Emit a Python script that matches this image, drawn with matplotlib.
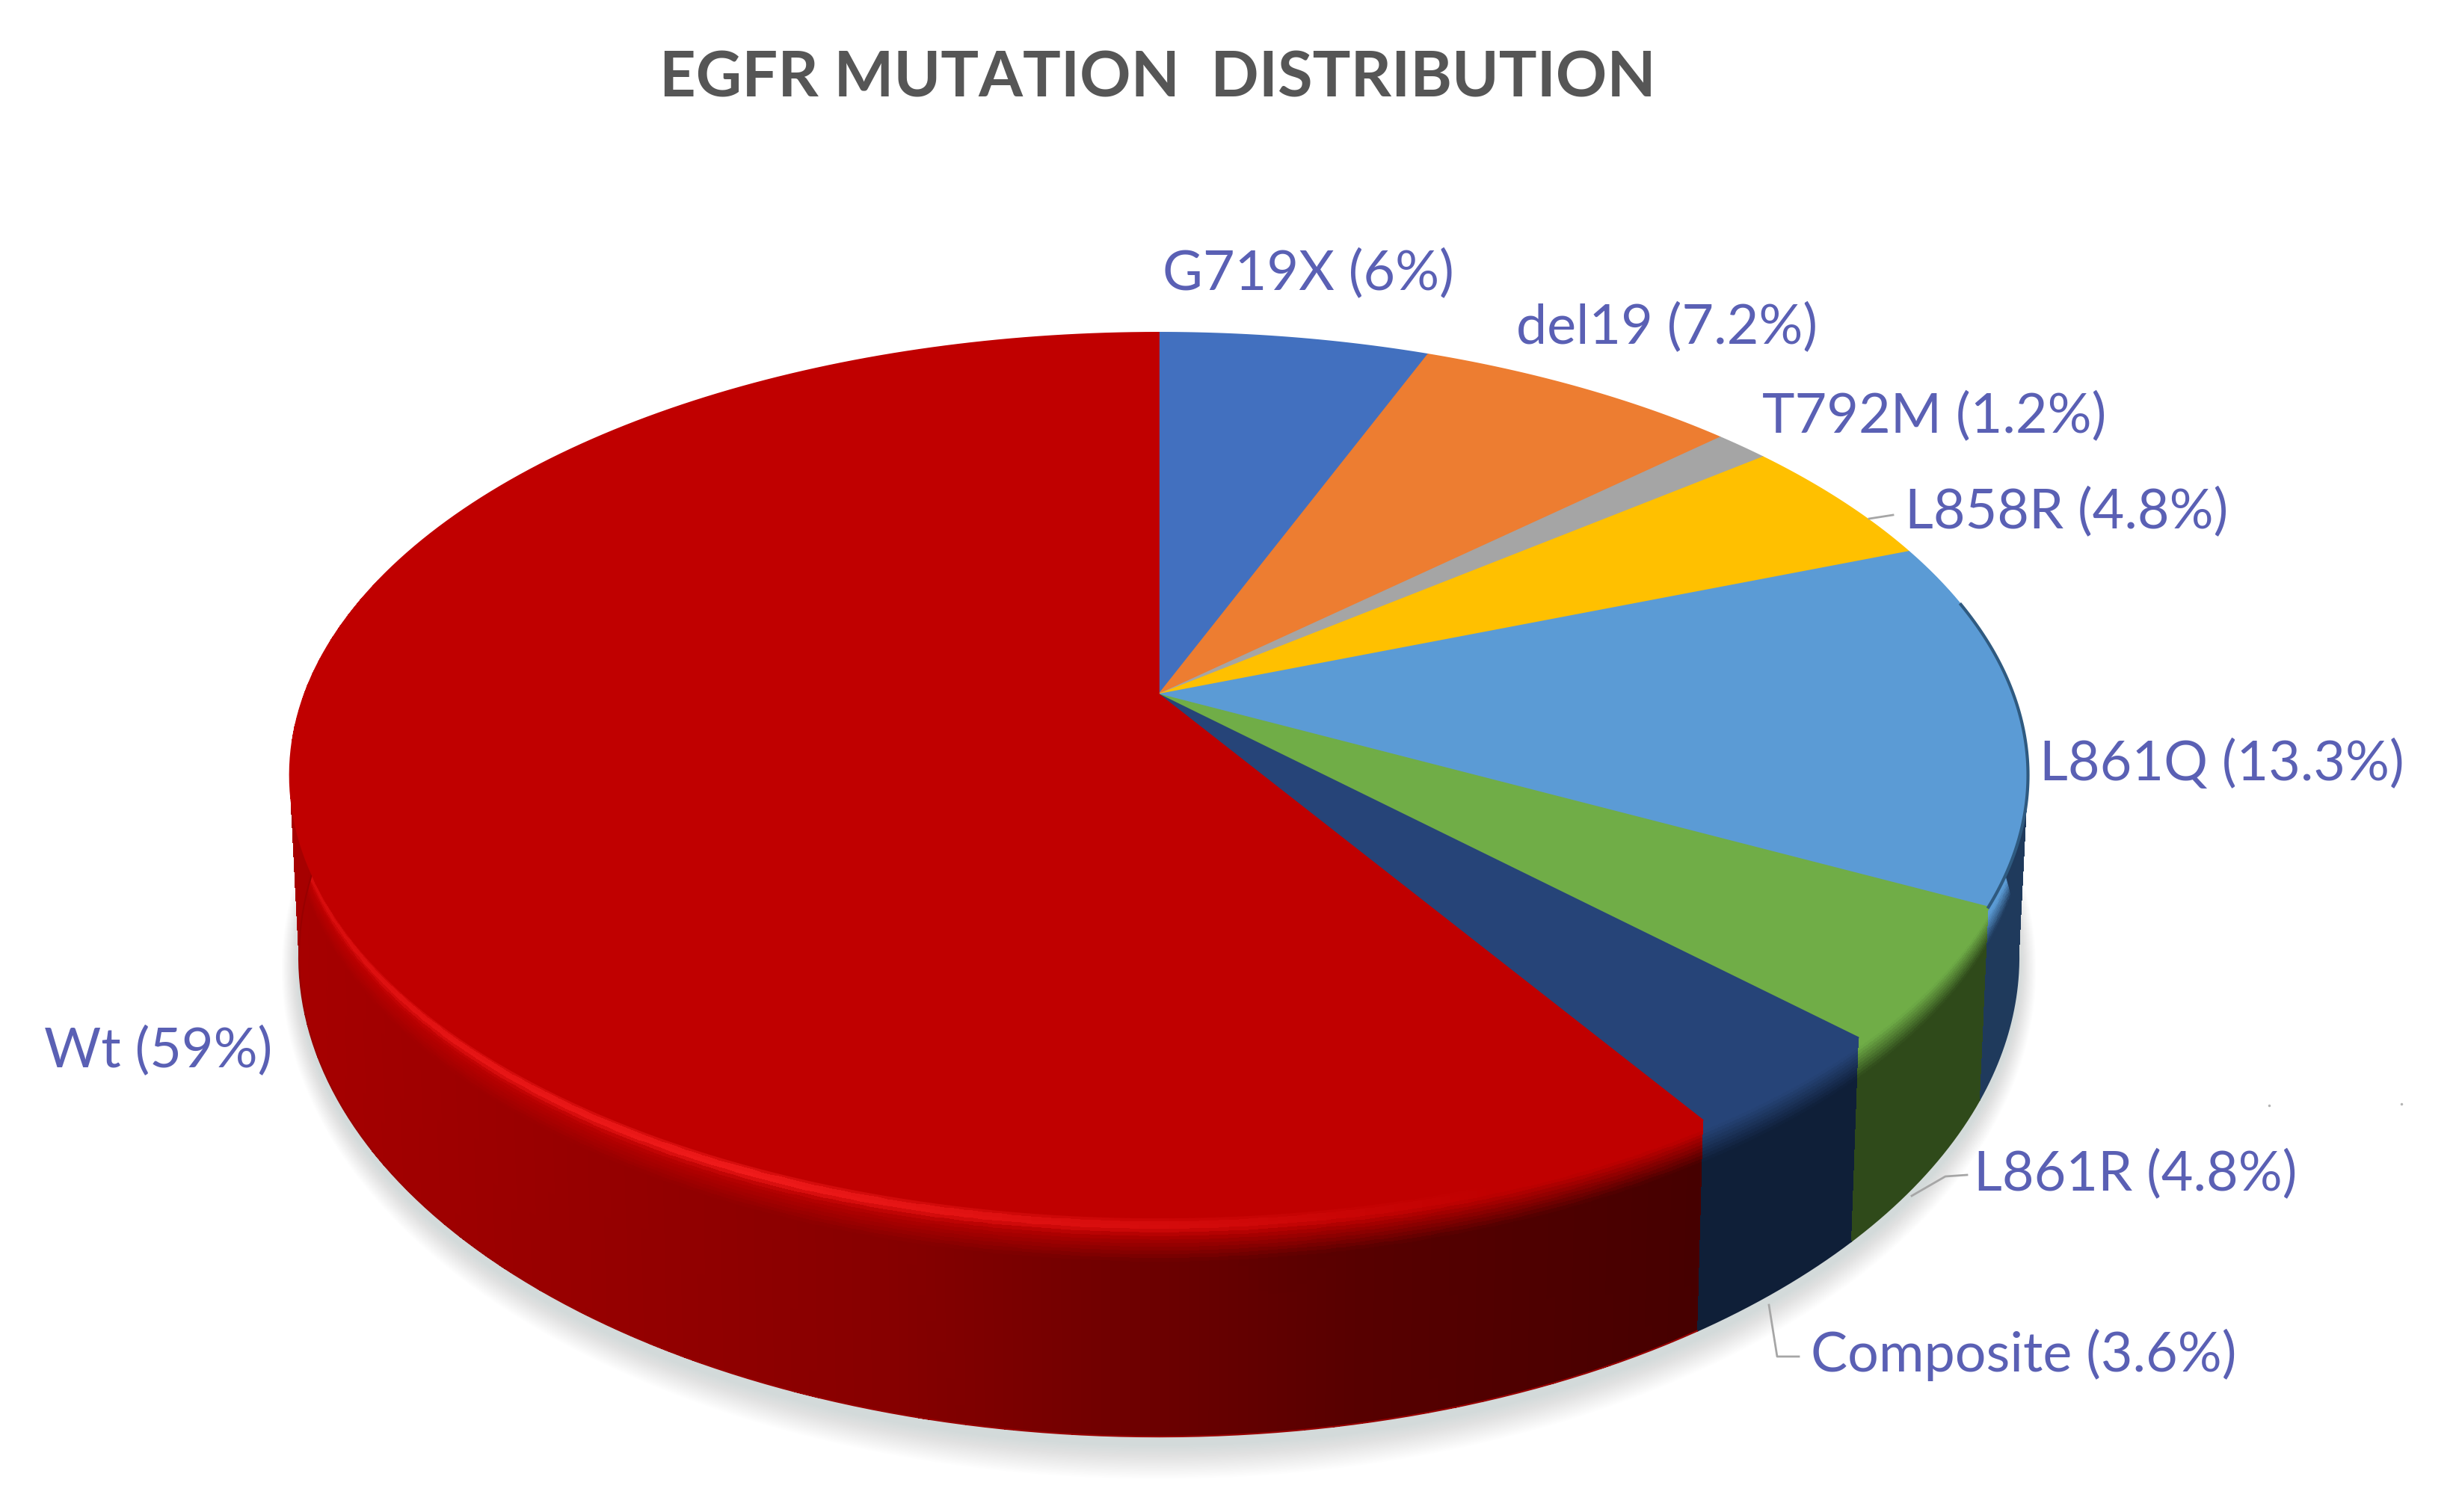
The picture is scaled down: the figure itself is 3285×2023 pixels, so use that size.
import numpy as np
import matplotlib
matplotlib.use("Agg")
import matplotlib.pyplot as plt
from matplotlib.colors import to_rgb

TITLE = "EGFR MUTATION  DISTRIBUTION"
names = ["G719X", "del19", "T792M", "L858R", "L861Q", "L861R", "Composite", "Wt"]
values = [6, 7.2, 1.2, 4.8, 13.3, 4.8, 3.6, 59]
labels = ["G719X (6%)", "del19 (7.2%)", "T792M (1.2%)", "L858R (4.8%)",
          "L861Q (13.3%)", "L861R (4.8%)", "Composite (3.6%)", "Wt (59%)"]

colors = ["#4270bf", "#ed7d31", "#a5a5a5", "#ffc000", "#5b9bd5", "#70ad47", "#264478", "#c00000"]
wall_colors = ["#1b2f55", "#6e3a16", "#4d4d4d", "#775a00", "#1f3a5c", "#2f4a1a", "#0f1f38", None]
label_pos = [(1555, 367), (2028, 439), (2357, 558), (2548, 686),
             (2728, 1023), (2640, 1572), (2422, 1813), (59, 1407)]

# перспектива диска: вершина, полуоси, наклон
K = 0.1825
TOP = dict(cx=1550, cy=930, A=1143, B=572.5)
BOT = dict(cx=1550, cy=1164, A=1130.7, B=620.6)
LABEL_COLOR = "#5a60b4"
LEADER = "#a6a6a6"


def project(frac, cx, cy, A, B):
    t = 2 * np.pi * np.asarray(frac)
    u, v = np.sin(t), np.cos(t)
    d = 1 + K * v
    return cx + A * u / d, cy - B * v / d


def draw_shadow(ax):
    fr = np.linspace(0, 1, 361)
    for grow in np.linspace(38, 2, 22):
        x, y = project(fr, BOT["cx"], BOT["cy"] + 10, BOT["A"] + grow * 0.6, BOT["B"] + grow)
        ax.fill(x, y, color="#7f8c8d", alpha=0.012, lw=0, zorder=1)


def draw_wall(ax, start, end, top_c, wall_c):
    start, end = max(start, 0.2), min(end, 0.8)
    if end <= start:
        return
    fr = np.linspace(start, end, 260)
    S = np.linspace(0, 1, 61)[:, None]
    tx, ty = project(fr, **TOP)
    bx, by = project(fr, **BOT)
    X = tx * (1 - S) + bx * S
    Y = ty * (1 - S) + by * S
    xm = 0.25 * (X[:-1, :-1] + X[1:, :-1] + X[:-1, 1:] + X[1:, 1:])
    sm = 0.5 * (S[:-1] + S[1:])
    top = np.array(to_rgb(top_c))
    if wall_c is None:
        r = np.interp(xm, [400, 1200, 1800, 2270], [0xa6, 0x86, 0x58, 0x46]) / 255
        base = np.dstack([r, np.zeros_like(r), np.zeros_like(r)])
    else:
        base = np.ones(xm.shape + (3,)) * np.array(to_rgb(wall_c))
    w = np.clip((0.2 - sm) / 0.15, 0, 1)[..., None]
    C = base * (1 - w) + top * w
    if wall_c is None:
        # блик по кромке слева
        hl = np.interp(xm, [400, 620, 1000, 1500, 2000], [0.45, 0.8, 1.0, 0.5, 0.0])
        hl = hl * np.exp(-((sm - 0.035) / 0.03) ** 2)
        C = C * (1 - hl[..., None]) + np.array(to_rgb("#f21c1c")) * hl[..., None]
    ax.pcolormesh(X, Y, C, shading="flat", antialiased=False, zorder=2)
    # сглаживаем нижний край стенки
    edge = C[-1, :, :]
    ax.plot(bx, by, color=edge[len(edge) // 2], lw=1.5, zorder=2)


def draw_top(ax, start, end, color):
    fr = np.linspace(start, end, 200)
    x, y = project(fr, **TOP)
    x = np.r_[TOP["cx"], x]
    y = np.r_[TOP["cy"], y]
    ax.fill(x, y, facecolor=color, edgecolor=color, lw=1.2, zorder=3)


def main():
    plt.rcParams["font.family"] = ["Lato", "DejaVu Sans"]
    fig = plt.figure(figsize=(32.85, 20.24), dpi=100, facecolor="white")
    ax = fig.add_axes([0, 0, 1, 1])
    ax.set_xlim(0, 3285)
    ax.set_ylim(2024, 0)
    ax.axis("off")

    edges = np.r_[0, np.cumsum(values)] / np.sum(values)

    draw_shadow(ax)
    for i in range(len(values)):
        draw_wall(ax, edges[i], edges[i + 1], colors[i], wall_colors[i])
    for i in range(len(values)):
        draw_top(ax, edges[i], edges[i + 1], colors[i])

    # тёмная кромка справа у L861Q
    rim_x, rim_y = project(np.linspace(0.215, edges[5], 80), **TOP)
    ax.plot(rim_x, rim_y, color="#2f5a80", lw=3, zorder=4)

    # подписи
    for lab, (x, y) in zip(labels, label_pos):
        ax.text(x, y, lab, color=LABEL_COLOR, fontsize=53, ha="left", va="center", zorder=5)

    ax.plot([2500, 2532], [695, 690], color=LEADER, lw=2, zorder=4)
    ax.plot([2557, 2602, 2631], [1601, 1575, 1573], color=LEADER, lw=2, zorder=4)
    ax.plot([2366, 2377, 2406], [1747, 1816, 1816], color=LEADER, lw=2, zorder=4)
    ax.plot([3035, 3212], [1480, 1478], ls="none", marker=".", ms=3, color="#b5b5b5", zorder=4)

    ax.text(1548, 105, TITLE, color="#565656", fontsize=61, fontweight="bold",
            ha="center", va="center", zorder=5)

    fig.savefig("out.png", dpi=100, facecolor="white")
    plt.close(fig)


if __name__ == "__main__":
    main()
